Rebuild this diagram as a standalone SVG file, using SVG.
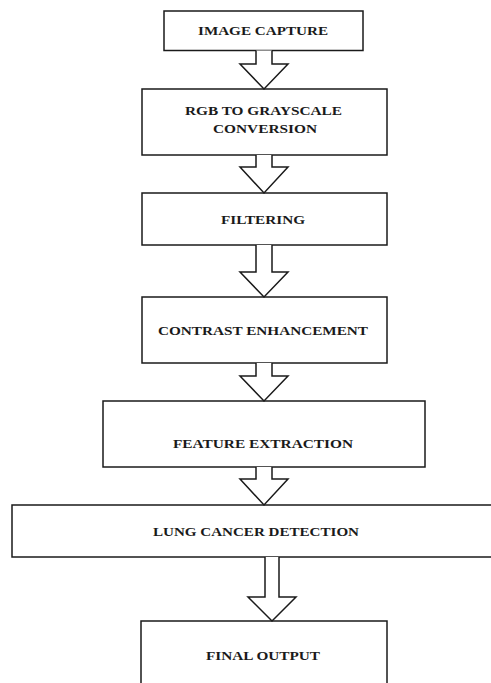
<svg xmlns="http://www.w3.org/2000/svg" width="491" height="683" viewBox="0 0 491 683">
<style>
.box{fill:#fff;stroke:#1a1a1a;stroke-width:1.5}
.arr{fill:#fff;stroke:#1a1a1a;stroke-width:1.5;stroke-linejoin:miter}
.t{font-family:"Liberation Serif","Times New Roman",serif;font-weight:bold;font-size:12px;fill:#1a1a1a;text-anchor:middle}
</style>
<rect width="491" height="683" fill="#fff"/>
<g id="n1"><rect class="box" x="164" y="11" width="199" height="39.5"/><text class="t" x="263" y="35" textLength="130" lengthAdjust="spacingAndGlyphs">IMAGE CAPTURE</text></g>
<g id="n2"><rect class="box" x="142" y="89" width="245" height="66"/><text class="t" x="263.5" y="115" textLength="157" lengthAdjust="spacingAndGlyphs">RGB TO GRAYSCALE</text><text class="t" x="265" y="133" textLength="104" lengthAdjust="spacingAndGlyphs">CONVERSION</text></g>
<g id="n3"><rect class="box" x="142" y="193" width="245" height="52"/><text class="t" x="263" y="224" textLength="84" lengthAdjust="spacingAndGlyphs">FILTERING</text></g>
<g id="n4"><rect class="box" x="142" y="297" width="245" height="66"/><text class="t" x="263" y="335" textLength="210" lengthAdjust="spacingAndGlyphs">CONTRAST ENHANCEMENT</text></g>
<g id="n5"><rect class="box" x="103" y="401" width="322" height="66"/><text class="t" x="263" y="448" textLength="180" lengthAdjust="spacingAndGlyphs">FEATURE EXTRACTION</text></g>
<g id="n6"><rect class="box" x="12" y="505" width="490" height="52" stroke-width="2"/><text class="t" x="256" y="536" textLength="206" lengthAdjust="spacingAndGlyphs">LUNG CANCER DETECTION</text></g>
<g id="n7"><rect class="box" x="141" y="621" width="246" height="80"/><text class="t" x="263" y="660" textLength="114" lengthAdjust="spacingAndGlyphs">FINAL OUTPUT</text></g>
<g id="connectors">
<path class="arr" d="M256,50.5 V64 H240 L264,89 L288,64 H272 V50.5"/>
<path class="arr" d="M256,155 V167 H240 L264,193 L288,167 H272 V155"/>
<path class="arr" d="M256,245 V272 H240 L264,297 L288,272 H272 V245"/>
<path class="arr" d="M256,363 V376 H240 L264,401 L288,376 H272 V363"/>
<path class="arr" d="M256,467 V479 H240 L264,505 L288,479 H272 V467"/>
<path class="arr" d="M265,557 V597 H248 L272,621 L296,597 H279 V557"/>
</g>
</svg>
